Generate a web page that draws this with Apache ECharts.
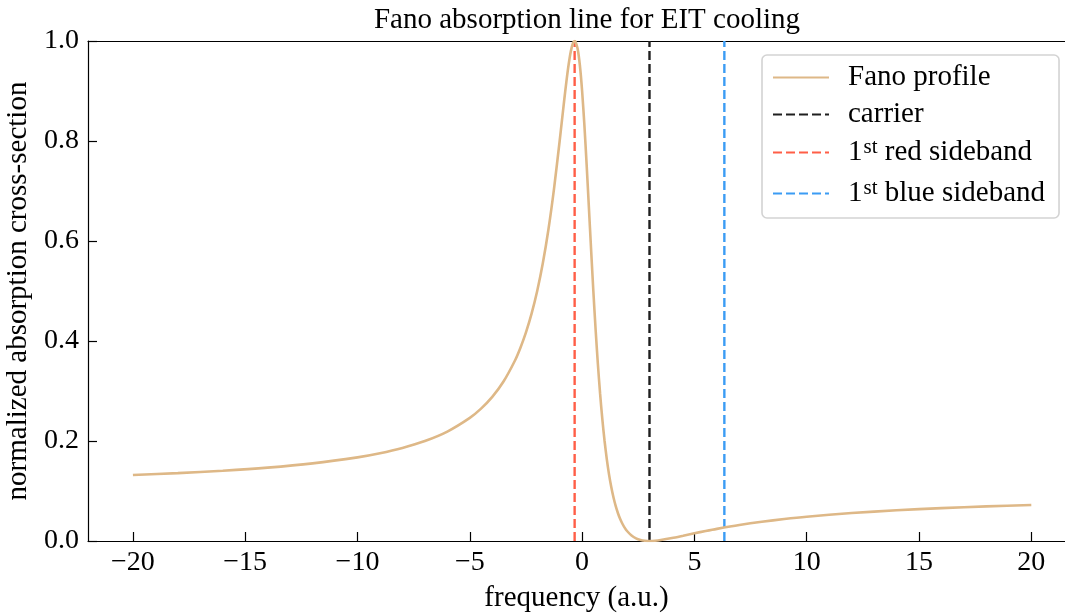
<!DOCTYPE html>
<html>
<head>
<meta charset="utf-8">
<script src="https://cdn.jsdelivr.net/npm/echarts@6/dist/echarts.min.js"></script>
<style>
  html, body { margin: 0; padding: 0; background: #fff; }
  #chart { width: 1065px; height: 615px; }
</style>
</head>
<body>
<div id="chart"></div>
<script>
// Fano profile samples: frequency (a.u.) and normalized cross-section
const freq = [
  -20, -18, -16, -14, -12, -10, -9, -8, -7, -6, -5, -4.5, -4, -3.5, -3,
  -2.75, -2.5, -2.25, -2, -1.75, -1.5, -1.25, -1, -0.9, -0.8, -0.7, -0.6,
  -0.5, -0.4, -0.333, -0.3, -0.2, -0.1, 0, 0.1, 0.2, 0.3, 0.4, 0.5, 0.6,
  0.7, 0.8, 0.9, 1.0, 1.1, 1.2, 1.3, 1.4, 1.5, 1.6, 1.7, 1.8, 1.9, 2.0,
  2.2, 2.4, 2.6, 2.8, 3.0, 3.25, 3.5, 4, 4.5, 5, 5.5, 6, 7, 8, 9, 10, 12,
  14, 16, 18, 20
];
const crossSection = [
  0.1319, 0.1357, 0.1405, 0.1467, 0.1552, 0.1673, 0.1756, 0.1862, 0.2000,
  0.2189, 0.2462, 0.2647, 0.2882, 0.3189, 0.3600, 0.3861, 0.4172, 0.4546,
  0.5000, 0.5554, 0.6231, 0.7049, 0.8000, 0.8403, 0.8805, 0.9188, 0.9529,
  0.9800, 0.9966, 1.0000, 0.9991, 0.9846, 0.9515, 0.9000, 0.8327, 0.7538,
  0.6688, 0.5828, 0.5000, 0.4235, 0.3550, 0.2951, 0.2436, 0.2000, 0.1633,
  0.1328, 0.1074, 0.0865, 0.0692, 0.0551, 0.0434, 0.0340, 0.0262, 0.0200,
  0.0110, 0.0053, 0.0021, 0.0005, 0.0000, 0.0005, 0.0019, 0.0059, 0.0106,
  0.0154, 0.0200, 0.0243, 0.0320, 0.0385, 0.0439, 0.0485, 0.0559, 0.0614,
  0.0658, 0.0692, 0.0721
];

// Laser detunings marked by vertical lines
const markerNames = ['carrier', '1st red sideband', '1st blue sideband'];
const markerFreqs = [3.0, -0.333, 6.333];

// Axis ticks
const xTicks = [-20, -15, -10, -5, 0, 5, 10, 15, 20];
const yTicks = [0, 0.2, 0.4, 0.6, 0.8, 1.0];

const serif = '"Liberation Serif", "DejaVu Serif", serif';
const markerColors = ['#1f1f1f', '#ff5e47', '#3b9cf4'];

const curveData = freq.map((f, i) => [f, crossSection[i]]);

const series = [{
  name: 'Fano profile',
  type: 'line',
  data: curveData,
  showSymbol: false,
  symbol: 'none',
  smooth: 0.25,
  lineStyle: { color: '#deb887', width: 2.6 },
  itemStyle: { color: '#deb887' },
  z: 3
}];
markerNames.forEach((name, i) => {
  series.push({
    name: name,
    type: 'line',
    data: [[markerFreqs[i], yTicks[0]], [markerFreqs[i], yTicks[yTicks.length - 1]]],
    showSymbol: false,
    symbol: 'none',
    lineStyle: { color: markerColors[i], width: 2.4, type: [9, 4] },
    itemStyle: { color: markerColors[i] },
    z: 2
  });
});

const minus = v => String(v).replace('-', '\u2212');
const axisColor = { color: '#000', width: 1.2 };

const chart = echarts.init(document.getElementById('chart'), null, { renderer: 'canvas' });
chart.setOption({
  animation: false,
  backgroundColor: '#ffffff',
  title: {
    text: 'Fano absorption line for EIT cooling',
    left: 582,
    textAlign: 'center',
    top: 1,
    textStyle: { fontFamily: serif, fontSize: 29, fontWeight: 'normal', color: '#000' }
  },
  grid: { left: 88, right: 0, top: 41, bottom: 74, outerBoundsMode: 'none', containLabel: false },
  legend: {
    orient: 'vertical',
    left: 762,
    top: 55,
    padding: [8, 14, 7, 10],
    itemGap: 8,
    itemWidth: 56,
    itemHeight: 14,
    itemStyle: { opacity: 0 },
    backgroundColor: 'rgba(255,255,255,0.85)',
    borderColor: '#d3d3d3',
    borderWidth: 1.6,
    borderRadius: 5,
    data: ['Fano profile'].concat(markerNames),
    formatter: function (name) {
      if (name.indexOf('1st') === 0) {
        return '{n|1}{sup|st}{n|' + name.slice(3) + '}';
      }
      return '{n|' + name + '}';
    },
    textStyle: {
      fontFamily: serif, fontSize: 29, color: '#000', padding: [0, 0, 0, 14],
      rich: {
        n: { fontFamily: serif, fontSize: 29, color: '#000', lineHeight: 31 },
        sup: { fontFamily: serif, fontSize: 21, color: '#000', verticalAlign: 'top', lineHeight: 31, padding: [0, 0, 12, 1] }
      }
    }
  },
  xAxis: [{
    type: 'value',
    min: -22,
    max: 21.5,
    name: 'frequency (a.u.)',
    nameLocation: 'middle',
    nameGap: 43,
    nameTextStyle: { fontFamily: serif, fontSize: 29, color: '#000' },
    axisLine: { show: true, onZero: false, lineStyle: axisColor },
    axisTick: { show: true, inside: true, length: 9, customValues: xTicks, lineStyle: axisColor },
    axisLabel: {
      customValues: xTicks,
      margin: 8,
      fontFamily: serif, fontSize: 28, color: '#000',
      formatter: v => minus(v)
    },
    splitLine: { show: false }
  }, {
    // top spine
    type: 'value',
    position: 'top',
    min: -22,
    max: 21.5,
    axisLine: { show: true, onZero: false, lineStyle: axisColor },
    axisTick: { show: false },
    axisLabel: { show: false },
    splitLine: { show: false }
  }],
  yAxis: {
    type: 'value',
    min: 0,
    max: 1,
    interval: 0.2,
    name: 'normalized absorption cross-section',
    nameLocation: 'middle',
    nameGap: 47,
    nameTextStyle: { fontFamily: serif, fontSize: 29, color: '#000' },
    axisLine: { show: true, onZero: false, lineStyle: axisColor },
    axisTick: { show: true, inside: true, length: 9, lineStyle: axisColor },
    axisLabel: {
      margin: 9,
      fontFamily: serif, fontSize: 28, color: '#000',
      formatter: v => v.toFixed(1)
    },
    splitLine: { show: false }
  },
  series: series
});
</script>
</body>
</html>
